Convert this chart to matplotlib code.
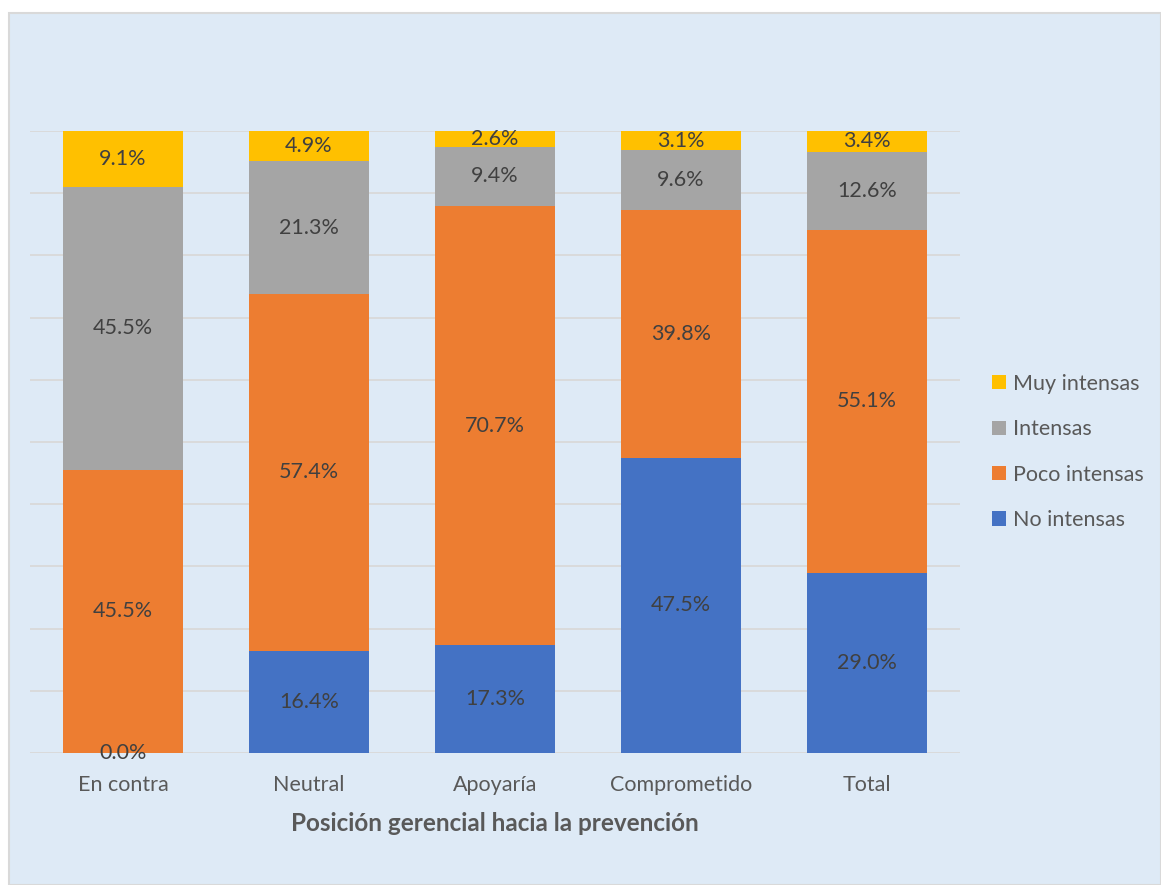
import numpy as np
import matplotlib.pyplot as plt
from matplotlib.patches import Rectangle

# data (percent)
categories   = ["En contra", "Neutral", "Apoyaría", "Comprometido", "Total"]
no_intensas  = [0.0, 16.4, 17.3, 47.5, 29.0]
poco_int     = [45.5, 57.4, 70.7, 39.8, 55.1]
intensas     = [45.5, 21.3, 9.4, 9.6, 12.6]
muy_intensas = [9.1, 4.9, 2.6, 3.1, 3.4]

series = [("No intensas", no_intensas, "#4472C4"),
          ("Poco intensas", poco_int, "#ED7D31"),
          ("Intensas", intensas, "#A5A5A5"),
          ("Muy intensas", muy_intensas, "#FFC000")]

plt.rcParams['font.family'] = ['Lato', 'DejaVu Sans']

W, H = 1161, 885
fig = plt.figure(figsize=(W / 100, H / 100), dpi=100)
fig.patch.set_facecolor("white")
# chart area box
fig.patches.append(Rectangle((9 / W, 0), 1 - 9 / W, 1 - 13 / H, transform=fig.transFigure,
                             facecolor="#DEEAF6", edgecolor="#D9D9D9", lw=1.5, zorder=-10))

ax = fig.add_axes([30 / W, 1 - 753 / H, 930 / W, 622 / H])
ax.set_facecolor("none")

x = np.arange(len(categories))
bottom = np.zeros(len(categories))
handles = []
for name, vals, col in series:
    vals = np.array(vals)
    b = ax.bar(x, vals, 0.645, bottom=bottom, color=col, label=name, zorder=3)
    handles.append(b)
    for xi, v, bt in zip(x, vals, bottom):
        ax.text(xi, bt + v / 2, f"{v:.1f}%", ha="center", va="center",
                fontsize=15.5, color="#404040", zorder=4)
    bottom += vals

ax.set_xlim(-0.5, len(categories) - 0.5)
ax.set_ylim(0, 100)
ax.set_yticks(np.arange(0, 101, 10))
ax.set_yticklabels([])
ax.tick_params(axis="y", length=0)
ax.tick_params(axis="x", length=0, pad=16, labelsize=15.5, labelcolor="#595959")
ax.set_xticks(x)
ax.set_xticklabels(categories)
ax.grid(axis="y", color="#D9D9D9", lw=1.3, zorder=0)
for s in ax.spines.values():
    s.set_visible(False)
ax.set_xlabel("Posición gerencial hacia la prevención", fontsize=17.5, fontweight="bold",
              color="#595959", labelpad=12)

leg = ax.legend(handles[::-1], [s[0] for s in series][::-1], loc="center left",
                bbox_to_anchor=(1.014, 0.484), frameon=False, fontsize=15.5,
                handlelength=0.65, handleheight=0.65, handletextpad=0.3, labelspacing=1.18)
for t in leg.get_texts():
    t.set_color("#595959")

fig.savefig("out.png", dpi=100)
